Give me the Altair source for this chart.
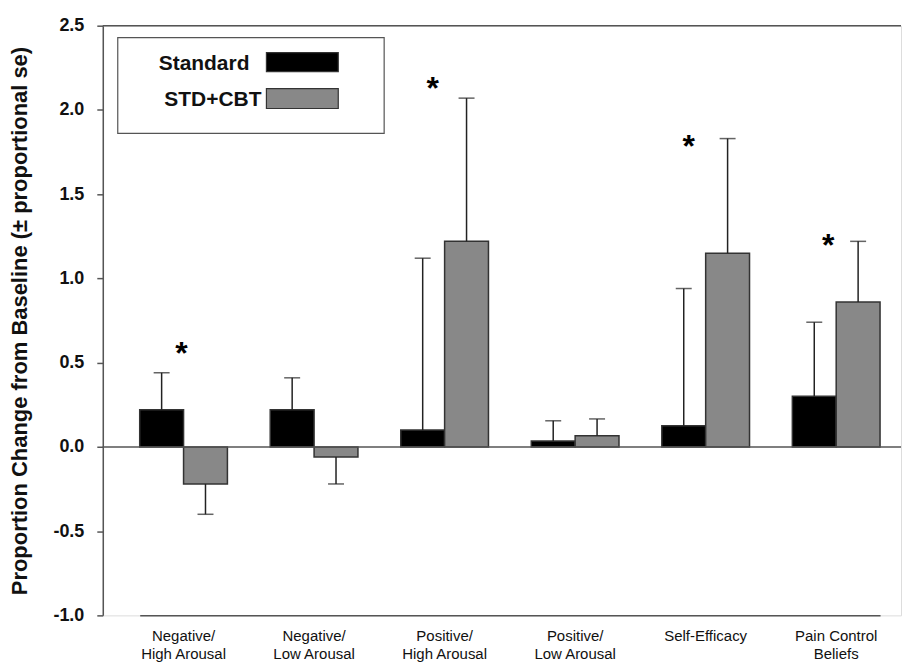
import altair as alt
import pandas as pd

categories = ["Negative/\nHigh Arousal", "Negative/\nLow Arousal", "Positive/\nHigh Arousal",
              "Positive/\nLow Arousal", "Self-Efficacy", "Pain Control\nBeliefs"]
series = ["Standard", "STD+CBT"]
standard_vals = [0.22, 0.22, 0.10, 0.035, 0.125, 0.30]
standard_err = [0.44, 0.41, 1.12, 0.155, 0.94, 0.74]
cbt_vals = [-0.22, -0.06, 1.22, 0.066, 1.15, 0.86]
cbt_err = [-0.40, -0.22, 2.07, 0.166, 1.83, 1.22]
star_cats = [categories[0], categories[2], categories[4], categories[5]]
star_y = [0.60, 2.17, 1.83, 1.24]
star_dx = [-2, -12, -17, -8]

rows = []
for i, c in enumerate(categories):
    rows.append({"cat": c, "series": series[0], "value": standard_vals[i], "err": standard_err[i]})
    rows.append({"cat": c, "series": series[1], "value": cbt_vals[i], "err": cbt_err[i]})
df = pd.DataFrame(rows)

W, H = 800, 591
FONT = "Liberation Sans, Arial, sans-serif"
NARROW = "Liberation Sans Narrow, Arial Narrow, Liberation Sans, sans-serif"

ys = alt.Scale(domain=[-1.0, 2.5], nice=False, zero=False)
xs = alt.Scale(domain=categories, range=[37, 779], paddingInner=0.328, paddingOuter=0)
color = alt.Color("series:N", scale=alt.Scale(domain=series, range=["#000000", "#888888"]), legend=None)

x_enc = alt.X("cat:N", scale=xs, sort=categories,
              axis=alt.Axis(title=None, labelAngle=0, ticks=False, labelPadding=13,
                            labelExpr="split(datum.label, '\\n')",
                            labelFont=NARROW, labelFontSize=15, labelColor="#111",
                            labelLineHeight=18, domainColor="#555", domainWidth=1.5,
                            labelBaseline="top"))
y_enc = alt.Y("value:Q", scale=ys,
              axis=alt.Axis(title="Proportion Change from Baseline (± proportional se)",
                            values=[-1.0, -0.5, 0.0, 0.5, 1.0, 1.5, 2.0, 2.5],
                            labelExpr="replace(format(datum.value, '.1f'), '\u2212', '-')",
                            labelFont=FONT, labelFontSize=18, labelFontWeight="bold",
                            labelColor="#111", labelPadding=13, tickSize=6, tickColor="#555",
                            tickWidth=1.5, domainColor="#555", domainWidth=1.5, grid=False,
                            titleFont=FONT, titleFontSize=22, titleFontWeight="bold",
                            titleColor="#111", titlePadding=21))
xo = alt.XOffset("series:N", sort=series, scale=alt.Scale(domain=series))

base = alt.Chart(df)

bars = base.mark_bar(stroke="#333", strokeWidth=1.5).encode(
    x=x_enc, xOffset=xo, y=y_enc, y2=alt.Y2(datum=0), color=color)

err_rule = base.mark_rule(color="#222", strokeWidth=1.5).encode(
    x=alt.X("cat:N", scale=xs, sort=categories), xOffset=xo,
    y=alt.Y("value:Q", scale=ys), y2="err:Q")
err_cap = base.mark_tick(color="#222", thickness=1.5, size=16, orient="horizontal").encode(
    x=alt.X("cat:N", scale=xs, sort=categories), xOffset=xo,
    y=alt.Y("err:Q", scale=ys))

zero_rule = alt.Chart(pd.DataFrame({"z": [0.0]})).mark_rule(color="#555", strokeWidth=1.5).encode(
    y=alt.Y("z:Q", scale=ys), x=alt.value(0), x2=alt.value(W))
top_rule = alt.Chart(pd.DataFrame({"z": [2.5]})).mark_rule(color="#555", strokeWidth=1.5).encode(
    y=alt.Y("z:Q", scale=ys), x=alt.value(0), x2=alt.value(W))

stars = []
for c, sy, dx in zip(star_cats, star_y, star_dx):
    stars.append(alt.Chart(pd.DataFrame({"cat": [c], "sy": [sy], "t": ["*"]})).mark_text(
        font=FONT, fontSize=32, fontWeight="bold", color="#000", dx=dx, dy=8, baseline="middle").encode(
        x=alt.X("cat:N", scale=xs, sort=categories), y=alt.Y("sy:Q", scale=ys), text="t:N"))

# legend
leg_box = alt.Chart(pd.DataFrame({"k": [0]})).mark_rect(fill="white", stroke="#555", strokeWidth=1.2).encode(
    x=alt.value(15), x2=alt.value(282), y=alt.value(12), y2=alt.value(108))
leg_df = pd.DataFrame({"series": series})
leg_sw1 = alt.Chart(leg_df).transform_filter(alt.datum.series == series[0]).mark_rect(
    stroke="#333", strokeWidth=1.2).encode(
    x=alt.value(164), x2=alt.value(236), y=alt.value(27), y2=alt.value(46), color=color)
leg_sw2 = alt.Chart(leg_df).transform_filter(alt.datum.series == series[1]).mark_rect(
    stroke="#333", strokeWidth=1.2).encode(
    x=alt.value(164), x2=alt.value(236), y=alt.value(63), y2=alt.value(83), color=color)
leg_t1 = alt.Chart(leg_df).transform_filter(alt.datum.series == series[0]).mark_text(
    font=FONT, fontSize=21, fontWeight="bold", align="right", baseline="middle", color="#111").encode(
    x=alt.value(147), y=alt.value(38), text="series:N")
leg_t2 = alt.Chart(leg_df).transform_filter(alt.datum.series == series[1]).mark_text(
    font=FONT, fontSize=21, fontWeight="bold", align="right", baseline="middle", color="#111").encode(
    x=alt.value(159), y=alt.value(74), text="series:N")

chart = alt.layer(bars, err_rule, err_cap, zero_rule, top_rule, *stars,
                  leg_box, leg_sw1, leg_sw2, leg_t1, leg_t2).properties(
    width=W, height=H, padding={"left": 0, "top": 8, "right": 0, "bottom": 0}
).configure_view(stroke=None).configure(background="white")

chart.save("out.html", embed_options={"renderer": "svg", "actions": False})
